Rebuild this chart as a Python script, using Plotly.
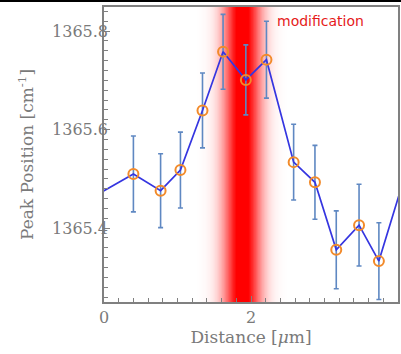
import numpy as np
import plotly.graph_objects as go

# Data
distance = [0.40, 0.77, 1.04, 1.34, 1.62, 1.93, 2.21, 2.58, 2.87, 3.16, 3.47, 3.74]
peak = [1365.510, 1365.476, 1365.518, 1365.639, 1365.758, 1365.701, 1365.742,
        1365.534, 1365.493, 1365.356, 1365.406, 1365.333]
err = [0.077, 0.075, 0.077, 0.076, 0.076, 0.071, 0.078, 0.077, 0.075, 0.079, 0.083, 0.078]
# neighbouring points just outside the shown range (line continues to the frame)
line_x = [-0.20] + distance + [4.05]
line_y = [1365.459] + peak + [1365.485]

band_center = 1.88
band_sigma = 0.18
x_ticks = [0, 2, 4]
y_range = [1365.25, 1365.849]

bx = np.linspace(band_center - 0.6, band_center + 0.6, 241)
prof = np.clip(1.1 * np.exp(-(bx - band_center) ** 2 / (2 * band_sigma ** 2)), 0, 1)

fig = go.Figure()
fig.add_trace(go.Heatmap(
    x=bx, y=y_range, z=[prof, prof], zmin=0, zmax=1,
    colorscale=[[0, 'rgb(255,255,255)'], [1, 'rgb(255,0,0)']],
    showscale=False, hoverinfo='skip', zsmooth='best'))
fig.add_trace(go.Scatter(
    x=distance, y=peak, mode='markers',
    marker=dict(size=0.1, color='rgba(0,0,0,0)'),
    error_y=dict(type='data', array=err, color='#5f88c2', thickness=1.6, width=2.5),
    showlegend=False, hoverinfo='skip'))
fig.add_trace(go.Scatter(
    x=line_x, y=line_y, mode='lines',
    line=dict(color='#3535e0', width=1.7), showlegend=False))
fig.add_trace(go.Scatter(
    x=distance, y=peak, mode='markers',
    marker=dict(symbol='circle-open', size=10, color='#f28a2a', line=dict(width=2)),
    showlegend=False))

fig.add_annotation(x=2.33, y=1365.82, xref='x', yref='y', text='modification',
                   showarrow=False, xanchor='left', yanchor='middle',
                   font=dict(family='DejaVu Sans', size=14, color='#e51a1a'))

W, H = 401, 354
ml, mr, mt, mb = 104, 3, 7, 52
pw, ph = W - ml - mr, H - mt - mb
fig.add_shape(type='line', xref='paper', yref='paper',
              x0=-ml / pw, x1=(W - ml) / pw, y0=1 + (mt - 1) / ph, y1=1 + (mt - 1) / ph,
              line=dict(color='black', width=2))

axis_font = dict(family='DejaVu Serif', size=16, color='#7a7a7a')
title_font = dict(family='DejaVu Serif', size=17, color='#7a7a7a')
fig.update_layout(
    width=W, height=H, margin=dict(l=ml, r=mr, t=mt, b=mb),
    plot_bgcolor='white', paper_bgcolor='white', separators='.',
    xaxis=dict(range=[0, 4], tickvals=x_ticks, ticks='inside', ticklen=6, tickcolor='#808080',
               showline=True, linecolor='#808080', linewidth=1.5, mirror=True,
               showgrid=False, zeroline=False, tickfont=axis_font, automargin=False,
               ticklabelstandoff=0,
               minor=dict(dtick=0.2, tick0=0, ticks='inside', ticklen=4, tickcolor='#808080', showgrid=False),
               title=dict(text='Distance [<i>μ</i>m]', font=title_font, standoff=2)),
    yaxis=dict(range=y_range, tick0=1365.4, dtick=0.2, tickformat='.1f', ticks='inside', ticklen=6,
               tickcolor='#808080', showline=True, linecolor='#808080', linewidth=1.5, mirror=True,
               showgrid=False, zeroline=False, tickfont=axis_font, automargin=False,
               ticklabelstandoff=-9,
               minor=dict(dtick=0.02, tick0=1365.4, ticks='inside', ticklen=4, tickcolor='#808080', showgrid=False),
               title=dict(text='Peak Position [cm<sup>-1</sup>]', font=title_font, standoff=14)),
)

fig.write_html('out.html', config={'displayModeBar': False},
               post_script="document.body.style.margin='0';")
